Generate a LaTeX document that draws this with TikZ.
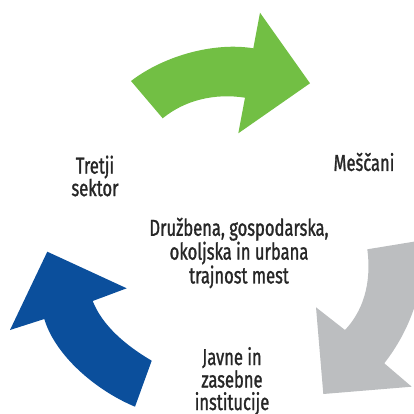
\documentclass[tikz,border=0pt]{standalone}
\usepackage{fontspec}
\setmainfont{Fira Sans}[FakeStretch=0.72,FakeBold=1.2]
\usetikzlibrary{positioning}
\definecolor{arrowgreen}{RGB}{114,191,68}
\definecolor{arrowgray}{RGB}{188,190,192}
\definecolor{arrowblue}{RGB}{11,79,156}

\begin{document}
\begin{tikzpicture}[x=1pt,y=-1pt,
    every node/.style={align=center,inner sep=0pt,
        font=\fontsize{23}{22.5}\selectfont,text=black!85}]
    \useasboundingbox (0,0) rectangle (414,414);

    % curved arrows
    \fill[arrowgreen] (131,81) -- (162.7,118.3)
        .. controls (185,100) and (215,93) .. (245,97.7)
        -- (238.3,133.3) -- (310,83.3) -- (260,12.7) -- (253.3,48.3)
        .. controls (215,42) and (165,55) .. (131,81) -- cycle;
    \begin{scope}
        \clip (0,0) rectangle (414,414);
        \fill[arrowgray] (424,240) -- (367.3,249.3)
            .. controls (372,285) and (362,312) .. (345,330)
            -- (316,307.3) -- (323.3,394) -- (411.7,386.7) -- (384.3,363.3)
            .. controls (410,330) and (425,290) .. (424,240) -- cycle;
    \end{scope}
    \fill[arrowblue] (135,406.7) -- (151.7,360.7)
        .. controls (125,345) and (102,325) .. (92.7,301)
        -- (126.7,288.3) -- (47.3,251.7) -- (10,330) -- (44.3,319)
        .. controls (55,355) and (95,390) .. (135,406.7) -- cycle;

    % labels
    \node (sektor) at (95,176) {Tretji\\sektor};
    \node (mescani) at (364,162) {Meščani};
    \node (trajnost) at (239,253) {Družbena, gospodarska,\\okoljska in urbana\\trajnost mest};
    \node (institucije) at (232,381) {Javne in\\zasebne\\institucije};
\end{tikzpicture}
\end{document}
